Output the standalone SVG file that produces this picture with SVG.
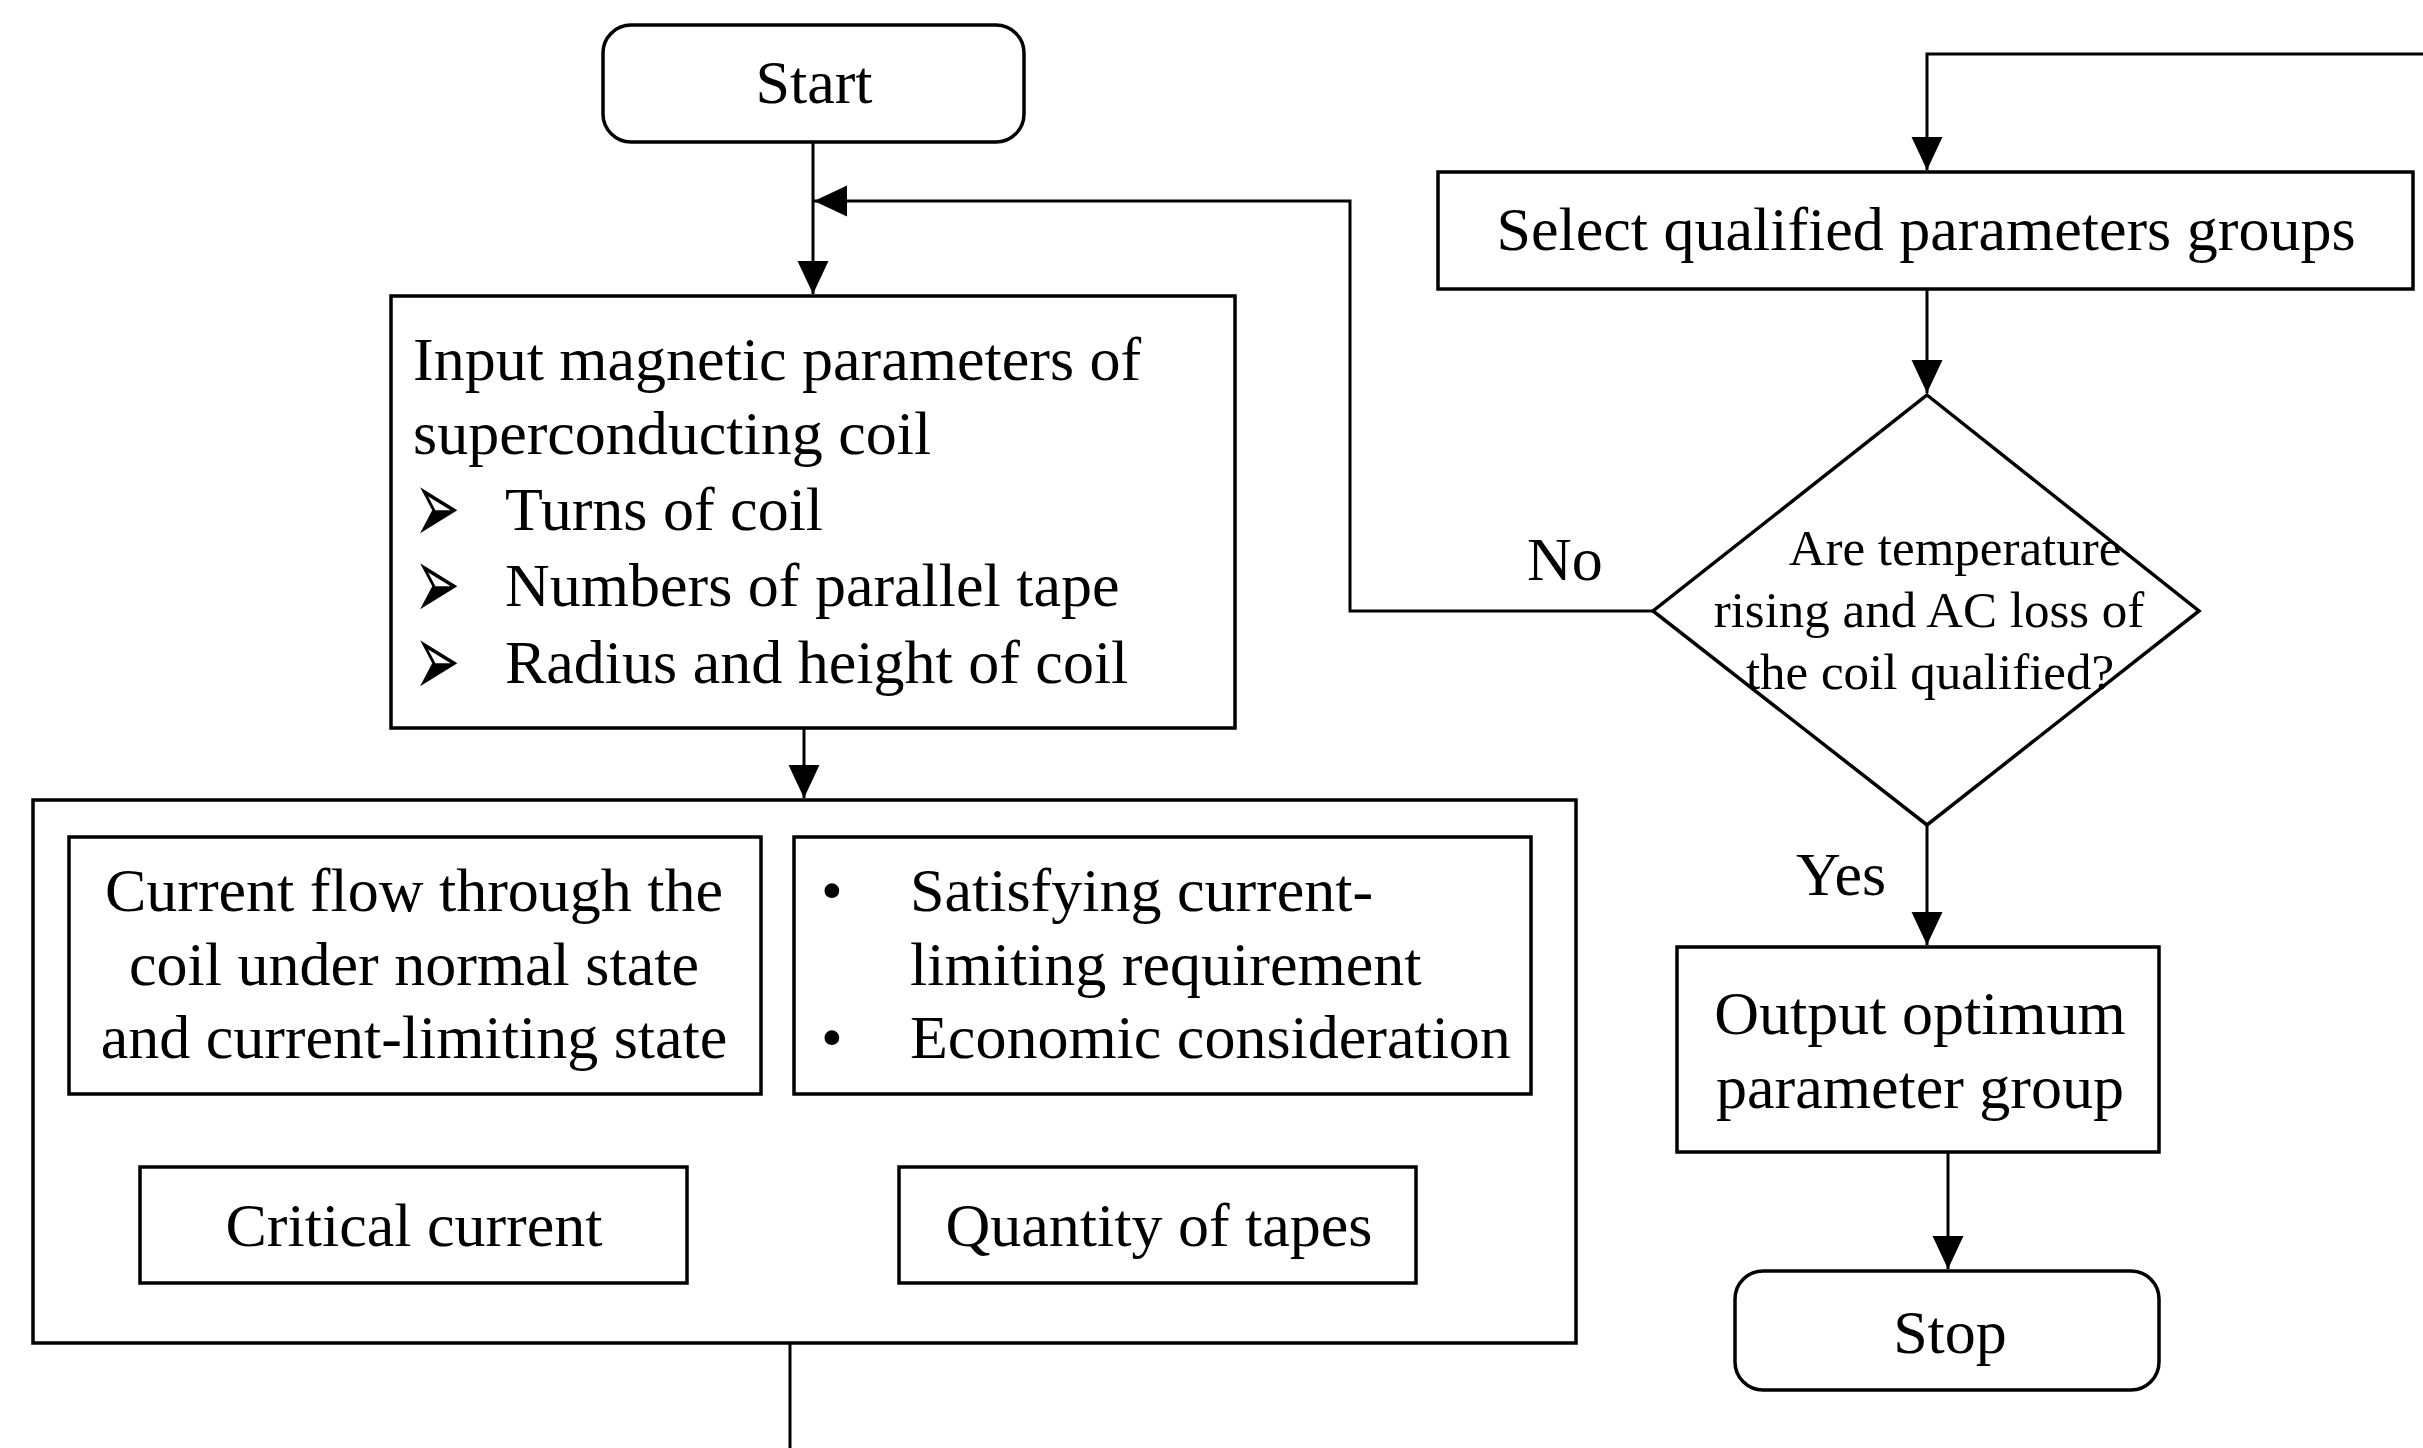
<svg xmlns="http://www.w3.org/2000/svg" width="2423" height="1448" viewBox="0 0 2423 1448">
<style>
.box{fill:#fff;stroke:#000;stroke-width:3.5}
.ln{fill:none;stroke:#000;stroke-width:3}
.t{font-family:"Liberation Serif","Times New Roman",serif;font-size:62px;fill:#000}
.c{text-anchor:middle}
.d{font-size:51px}
.b{font-family:"DejaVu Sans",sans-serif;font-size:55px;fill:#000}
</style>
<defs>
<marker id="arr" markerUnits="userSpaceOnUse" markerWidth="34" markerHeight="32" refX="33" refY="15.5" orient="auto">
<path d="M0,0 L33,15.5 L0,31 z" fill="#000"/>
</marker>
</defs>
<rect width="2423" height="1448" fill="#fff"/>
<g id="connectors">
<path class="ln" d="M813,142 V294" marker-end="url(#arr)"/>
<path class="ln" d="M1653,611 H1350 V201 H814" marker-end="url(#arr)"/>
<path class="ln" d="M804,728 V798" marker-end="url(#arr)"/>
<path class="ln" d="M410,1094 V1165" marker-end="url(#arr)"/>
<path class="ln" d="M1169,1094 V1165" marker-end="url(#arr)"/>
<path class="ln" d="M790,1343 V1448"/>
<path class="ln" d="M2423,54 H1927 V170" marker-end="url(#arr)"/>
<path class="ln" d="M1927,289 V393" marker-end="url(#arr)"/>
<path class="ln" d="M1927,825 V945" marker-end="url(#arr)"/>
<path class="ln" d="M1948,1152 V1269" marker-end="url(#arr)"/>
<text class="t" x="1527" y="580">No</text>
<text class="t" x="1796" y="895">Yes</text>
</g>
<g id="start">
<rect class="box" x="603" y="25" width="421" height="117" rx="28" ry="28"/>
<text class="t c" x="814" y="103">Start</text>
</g>
<g id="input">
<rect class="box" x="391" y="296" width="844" height="432"/>
<text class="t" x="413" y="380">Input magnetic parameters of</text>
<text class="t" x="413" y="454">superconducting coil</text>
<text class="b" transform="translate(414,500) scale(1,1.9)" x="0" y="22.7">➢</text>
<text class="t" x="505" y="530">Turns of coil</text>
<text class="b" transform="translate(414,576) scale(1,1.9)" x="0" y="22.7">➢</text>
<text class="t" x="505" y="606">Numbers of parallel tape</text>
<text class="b" transform="translate(414,653) scale(1,1.9)" x="0" y="22.7">➢</text>
<text class="t" x="505" y="683">Radius and height of coil</text>
</g>
<g id="outer">
<rect class="box" x="33" y="800" width="1543" height="543"/>
</g>
<g id="current-flow">
<rect class="box" x="69" y="837" width="692" height="257"/>
<text class="t c" x="414" y="911">Current flow through the</text>
<text class="t c" x="414" y="985">coil under normal state</text>
<text class="t c" x="414" y="1058">and current-limiting state</text>
</g>
<g id="requirements">
<rect class="box" x="794" y="837" width="737" height="257"/>
<text class="t" x="821" y="911">•</text>
<text class="t" x="910" y="911">Satisfying current-</text>
<text class="t" x="910" y="985">limiting requirement</text>
<text class="t" x="821" y="1058">•</text>
<text class="t" x="910" y="1058">Economic consideration</text>
</g>
<g id="critical">
<rect class="box" x="140" y="1167" width="547" height="116"/>
<text class="t c" x="414" y="1246">Critical current</text>
</g>
<g id="quantity">
<rect class="box" x="899" y="1167" width="517" height="116"/>
<text class="t c" x="1159" y="1246">Quantity of tapes</text>
</g>
<g id="select">
<rect class="box" x="1438" y="172" width="975" height="117"/>
<text class="t c" x="1926" y="250">Select qualified parameters groups</text>
</g>
<g id="decision">
<path class="box" d="M1927,395 L2199,611 L1927,825 L1653,611 Z"/>
<text class="t d c" x="1955" y="565">Are temperature</text>
<text class="t d c" x="1929" y="627">rising and AC loss of</text>
<text class="t d c" x="1930" y="689">the coil qualified?</text>
</g>
<g id="output">
<rect class="box" x="1677" y="947" width="482" height="205"/>
<text class="t c" x="1920" y="1034">Output optimum</text>
<text class="t c" x="1920" y="1108">parameter group</text>
</g>
<g id="stop">
<rect class="box" x="1735" y="1271" width="424" height="119" rx="28" ry="28"/>
<text class="t c" x="1950" y="1353">Stop</text>
</g>
</svg>
